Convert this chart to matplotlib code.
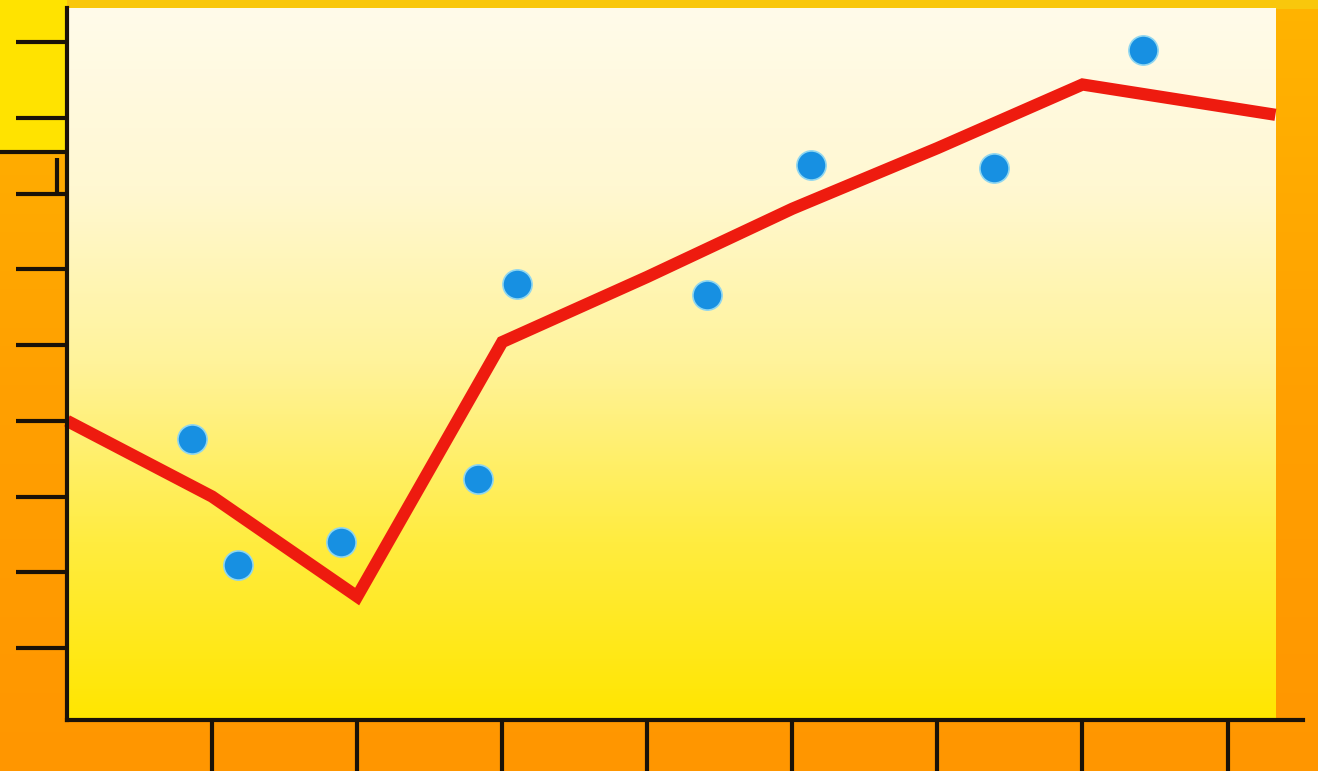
import numpy as np
import matplotlib
matplotlib.use('Agg')
from matplotlib import pyplot as plt
from matplotlib.colors import LinearSegmentedColormap

# trend line (vertices at each x tick, last point at right edge of the panel)
line_x = [0, 1, 2, 3, 4, 5, 6, 7, 8.33]
line_y = [4.0, 3.0, 1.68, 5.04, 5.9, 6.8, 7.6, 8.44, 8.04]

# scattered observations
dot_x = [0.86, 1.18, 1.89, 2.83, 3.10, 4.41, 5.13, 6.39, 7.42]
dot_y = [3.76, 2.09, 2.40, 3.23, 5.80, 5.66, 7.38, 7.34, 8.89]

x_ticks = [1, 2, 3, 4, 5, 6, 7, 8]
y_ticks = [1, 2, 3, 4, 5, 6, 7, 8, 9]

W, H = 1318, 771
fig = plt.figure(figsize=(W / 100, H / 100), dpi=100)

# page background (scanned look): orange gradient with yellow corner
bg = fig.add_axes([0, 0, 1, 1], zorder=-10)
bg.set_xlim(0, W)
bg.set_ylim(H, 0)
bg.axis('off')
orange = LinearSegmentedColormap.from_list('o', ['#FFB400', '#FFA000', '#FF9600'])
bg.imshow(np.linspace(0, 1, 256)[:, None], cmap=orange, aspect='auto',
          extent=(0, W, H, 0))
bg.add_patch(plt.Rectangle((0, 0), W, 9, color='#F9C70C', lw=0))
bg.add_patch(plt.Rectangle((0, 0), 67, 152, color='#FFE300', lw=0))
bg.plot([0, 67], [152, 152], color='#1a1208', lw=3, solid_capstyle='butt')
bg.plot([57, 57], [158, 193], color='#1a1208', lw=3, solid_capstyle='butt')

# main axes
x0, x1 = 0, 8.52
y0, y1 = 0.05, 9.45
ax = fig.add_axes([67 / W, (H - 720) / H, (1303 - 67) / W, (720 - 8) / H])
ax.set_xlim(x0, x1)
ax.set_ylim(y0, y1)
ax.patch.set_alpha(0)

panel = LinearSegmentedColormap.from_list(
    'p', ['#FFE600', '#FFEC40', '#FFF39A', '#FFF8D2', '#FFFBEA'])
ax.imshow(np.linspace(0, 1, 256)[:, None], cmap=panel, origin='lower',
          aspect='auto', extent=(0, 8.33, y0, y1), zorder=0)

ax.plot(line_x, line_y, color='#EE1B0F', lw=8.8, solid_joinstyle='miter',
        solid_capstyle='butt', zorder=3, clip_on=False)
ax.plot(dot_x, dot_y, 'o', ms=21, color='#1790E2', mec='#8FD6F0', mew=1.2,
        zorder=4, clip_on=False)

for s in ['top', 'right']:
    ax.spines[s].set_visible(False)
for s in ['left', 'bottom']:
    ax.spines[s].set_linewidth(3)
    ax.spines[s].set_color('#1a1208')
    ax.spines[s].set_zorder(5)

ax.set_xticks(x_ticks)
ax.set_yticks(y_ticks)
ax.set_xticklabels([])
ax.set_yticklabels([])
ax.tick_params(axis='y', direction='out', length=37, width=3, color='#1a1208')
ax.tick_params(axis='x', direction='out', length=38, width=3, color='#1a1208')

fig.savefig('out.png', dpi=100)
